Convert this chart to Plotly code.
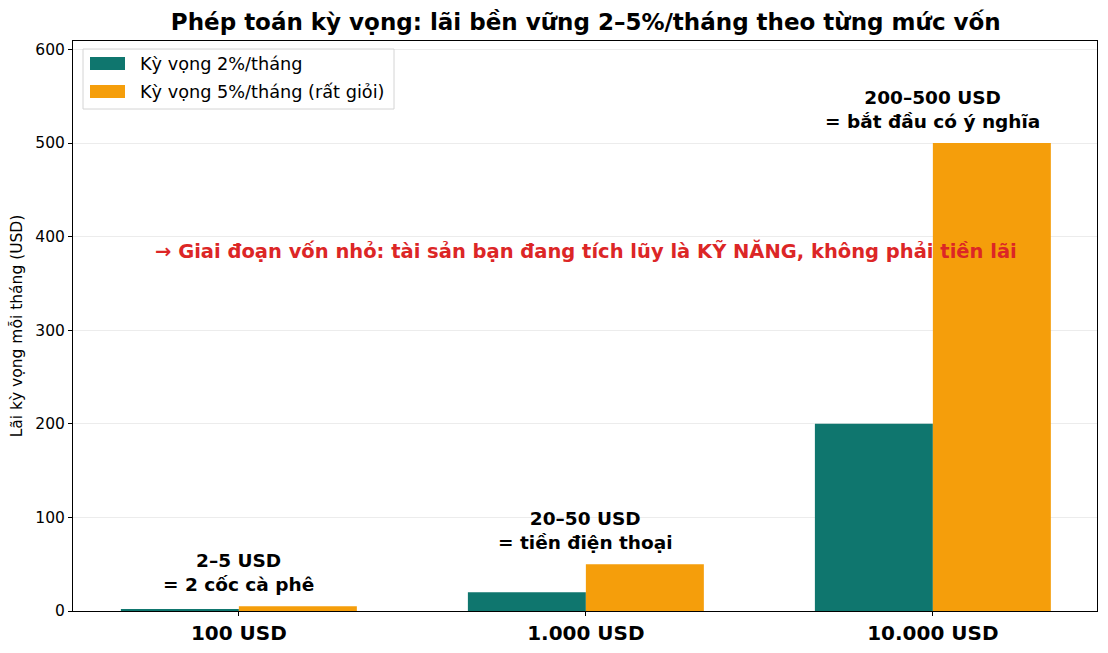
import plotly.graph_objects as go

categories = ["100 USD", "1.000 USD", "10.000 USD"]
exp_2pct = [2, 20, 200]
exp_5pct = [5, 50, 500]
notes = ["2–5 USD<br>= 2 cốc cà phê", "20–50 USD<br>= tiền điện thoại", "200–500 USD<br>= bắt đầu có ý nghĩa"]
series_names = ["Kỳ vọng 2%/tháng", "Kỳ vọng 5%/tháng (rất giỏi)"]
title_text = "Phép toán kỳ vọng: lãi bền vững 2–5%/tháng theo từng mức vốn"
ylabel = "Lãi kỳ vọng mỗi tháng (USD)"
red_note = "→ Giai đoạn vốn nhỏ: tài sản bạn đang tích lũy là KỸ NĂNG, không phải tiền lãi"
red_note_y = 385

FONT = "DejaVu Sans"
TEAL = "#0f766e"
AMBER = "#f59e0b"
RED = "#dc2626"
COLORS = [TEAL, AMBER]

W, H = 1108, 653
ML, MR, MT, MB = 73, 11, 41, 42
PW, PH = W - ML - MR, H - MT - MB


def px(x):
    return (x - ML) / PW


def py(y):
    return (H - MB - y) / PH


fig = go.Figure()
for name, vals, col in zip(series_names, [exp_2pct, exp_5pct], COLORS):
    fig.add_trace(go.Bar(x=categories, y=vals, name=name, showlegend=False,
                         marker=dict(color=col, line=dict(width=0))))

for cat, a, b, note in zip(categories, exp_2pct, exp_5pct, notes):
    fig.add_annotation(x=cat, y=max(a, b) + 10, text=note, showarrow=False,
                       xanchor="center", yanchor="bottom",
                       font=dict(family=FONT, size=18.5, color="black", weight="bold"))

fig.add_annotation(x=categories[1], y=red_note_y, text=red_note, showarrow=False,
                   xanchor="center", yanchor="middle",
                   font=dict(family=FONT, size=19.5, color=RED, weight="bold"))

# custom legend (matplotlib-like)
fig.add_shape(type="rect", xref="paper", yref="paper", x0=px(83), x1=px(394), y0=py(109), y1=py(49),
              line=dict(color="#d4d4d4", width=1), fillcolor="rgba(255,255,255,0.8)", layer="above")
for i, (name, col) in enumerate(zip(series_names, COLORS)):
    yc = 63.5 + 28 * i
    fig.add_shape(type="rect", xref="paper", yref="paper", x0=px(90), x1=px(125),
                  y0=py(yc + 6.5), y1=py(yc - 6.5), line=dict(width=0), fillcolor=col, layer="above")
    fig.add_annotation(xref="paper", yref="paper", x=px(138), y=py(yc), text=name, showarrow=False,
                       xanchor="left", yanchor="middle",
                       font=dict(family=FONT, size=17.7, color="black"))

fig.update_layout(
    width=W, height=H,
    margin=dict(l=ML, r=MR, t=MT, b=MB, autoexpand=False),
    paper_bgcolor="white", plot_bgcolor="white",
    barmode="group", bargap=0.32, bargroupgap=0,
    font=dict(family=FONT, color="black"),
    title=dict(text=title_text, x=0.5287, xanchor="center", y=0.966, yanchor="middle",
               font=dict(family=FONT, size=23, color="black", weight="bold")),
    showlegend=False,
)
fig.update_xaxes(range=[-0.478, 2.473], showline=True, linecolor="black", linewidth=1, mirror=True,
                 ticks="outside", ticklen=4, tickcolor="black", automargin=False,
                 tickfont=dict(family=FONT, size=20, color="black", weight="bold"),
                 showgrid=False, zeroline=False)
fig.update_yaxes(range=[0, 609], showline=True, linecolor="black", linewidth=1, mirror=True,
                 ticks="outside", ticklen=4, tickcolor="black", dtick=100, automargin=False,
                 tickfont=dict(family=FONT, size=15.5, color="black"),
                 showgrid=True, gridcolor="#ececec", gridwidth=1, zeroline=False,
                 title=dict(text=ylabel, font=dict(family=FONT, size=15.5, color="black"), standoff=8))

fig.write_html("out.html")
